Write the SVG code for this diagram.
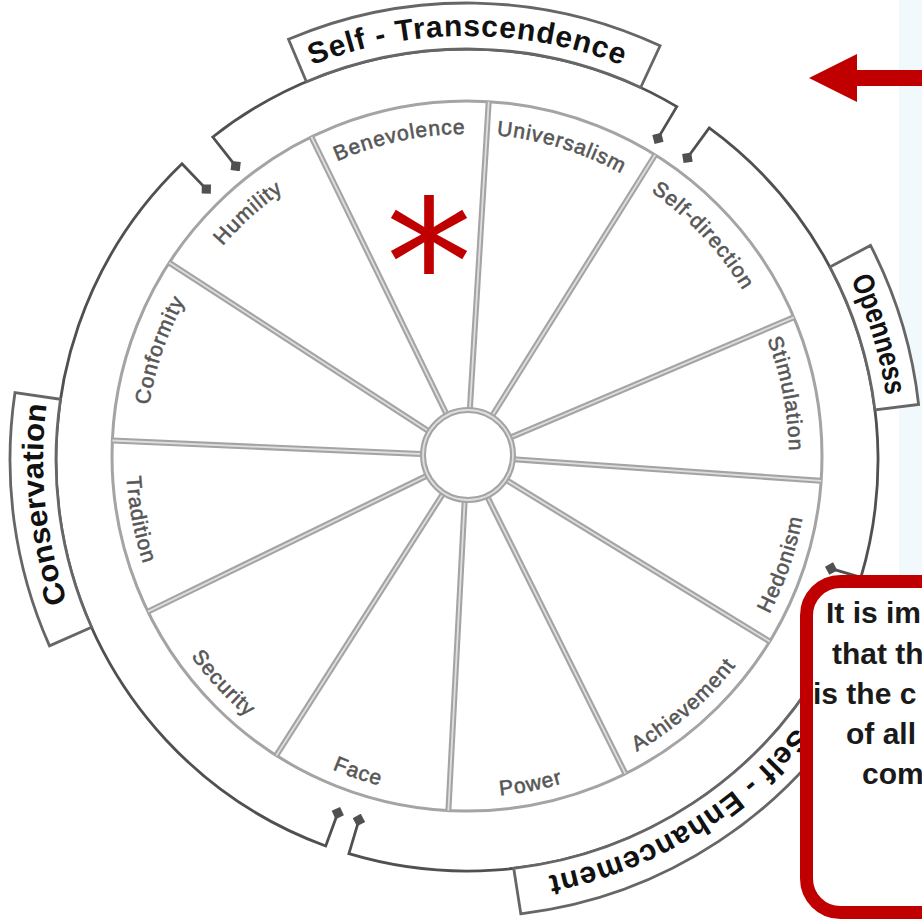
<svg xmlns="http://www.w3.org/2000/svg" xmlns:xlink="http://www.w3.org/1999/xlink" width="922" height="920" viewBox="0 0 922 920">
<defs>
<style>
.spO{stroke:#a4a4a4;stroke-width:6;fill:none;stroke-linecap:butt}
.spI{stroke:#dedede;stroke-width:1.8;fill:none}
.br{stroke:#505050;stroke-width:2.8;fill:none;marker-start:url(#dia);marker-end:url(#dia)}
.box{stroke:#666;stroke-width:2.8;fill:#fff}
.lbl{font-family:"Liberation Sans",Arial,sans-serif;font-size:21px;fill:#555;stroke:#5a5a5a;stroke-width:0.6;letter-spacing:1px}
.cat{font-family:"Liberation Sans",Arial,sans-serif;font-size:30px;font-weight:bold;fill:#111}
.note{font-family:"Liberation Sans",Arial,sans-serif;font-size:30px;font-weight:bold;fill:#1a1a1a}
</style>
<marker id="dia" viewBox="0 0 12 12" refX="6" refY="6" markerWidth="13" markerHeight="13" markerUnits="userSpaceOnUse" orient="auto">
<path d="M0,6 L6,0 L12,6 L6,12 Z" fill="#505050"/>
</marker>
<path id="pBen" d="M160.7,356.5 A322,322 0 0,1 706.3,240.5"/>
<path id="pUni" d="M247.4,220.5 A322,322 0 0,1 780.8,383.6"/>
<path id="pSd" d="M394.6,142.2 A322,322 0 0,1 774.9,550.1"/>
<path id="pSti" d="M571.8,151.5 A322,322 0 0,1 678.3,699.0"/>
<path id="pCon" d="M224.0,667.3 A322,322 0 0,1 405.6,139.9"/>
<path id="pHum" d="M152.0,522.9 A322,322 0 0,1 566.5,149.7"/>
<path id="pHed" d="M532.1,790.7 A341,341 0 0,0 724.4,232.3"/>
<path id="pAch" d="M356.0,778.4 A341,341 0 0,0 801.7,390.9"/>
<path id="pPow" d="M209.6,679.7 A341,341 0 0,0 789.4,567.0"/>
<path id="pFac" d="M132.3,521.1 A341,341 0 0,0 690.7,713.4"/>
<path id="pSec" d="M140.9,356.3 A341,341 0 0,0 543.7,788.3"/>
<path id="pTra" d="M243.3,198.6 A341,341 0 0,0 356.0,778.4"/>
<path id="cST" d="M99.8,248 A424,424 0 0,1 834.2,248"/>
<path id="cOp" d="M562.4,46.9 A424,424 0 0,1 777.1,749.2"/>
<path id="cCo" d="M294.6,847.3 A424,424 0 0,1 217.8,117.0"/>
<path id="cSE" d="M890.9,452.6 A424,424 0 0,1 261.4,830.8"/>
</defs>

<rect x="0" y="0" width="922" height="920" fill="#fff"/>
<rect x="899" y="0" width="23" height="580" fill="#f1f9fc"/>

<g id="connectors">
<path class="br" d="M235.7,166.1 L212.8,137.0 A411,411 0 0,1 676.8,106.6 L657.9,138.4"/>
<path class="br" d="M687.4,157.8 L709.2,127.9 A411,411 0 0,1 860.9,577.4 L831.2,568.6"/>
<path class="br" d="M819.3,602.3 L848.1,614.0 A411,411 0 0,1 348.9,853.7 L358.9,820.1"/>
<path class="br" d="M337.8,813.1 L325.7,846.0 A411,411 0 0,1 182.0,163.8 L206.3,189.1"/>
</g>

<g id="self-transcendence">
<path class="box" d="M306.4,81.7 L288.5,39.3 A457,457 0 0,1 660.1,45.8 L640.7,87.5 A411,411 0 0,0 306.4,81.7 Z"/>
<text class="cat" textLength="317" lengthAdjust="spacing"><textPath href="#cST" startOffset="50%" text-anchor="middle">Self - Transcendence</textPath></text>
</g>
<g id="openness">
<path class="box" d="M829.9,267.0 L870.5,245.4 A457,457 0 0,1 918.6,404.5 L874.9,409.9 A411,411 0 0,0 829.9,267.0 Z"/>
<text class="cat" font-size="28" textLength="122" lengthAdjust="spacingAndGlyphs"><textPath href="#cOp" startOffset="50%" text-anchor="middle">Openness</textPath></text>
</g>
<g id="conservation">
<path class="box" d="M91.6,627.2 L49.5,645.9 A457,457 0 0,1 15.0,392.5 L60.5,399.3 A411,411 0 0,0 91.6,627.2 Z"/>
<text class="cat" font-size="29" textLength="200" lengthAdjust="spacingAndGlyphs"><textPath href="#cCo" startOffset="50%" text-anchor="middle">Conservation</textPath></text>
</g>
<g id="self-enhancement">
<path class="box" d="M513.7,868.3 L520.8,913.8 A457,457 0 0,0 863,688 L823,665 A411,411 0 0,1 513.7,868.3 Z"/>
<text class="cat" textLength="295" lengthAdjust="spacing"><textPath href="#cSE" startOffset="50%" text-anchor="middle">Self - Enhancement</textPath></text>
</g>

<g id="wheel">
<circle cx="467" cy="456" r="355" fill="#fff" stroke="#a4a4a4" stroke-width="3"/>
<g class="spO">
<line x1="469.8" y1="410.1" x2="488.7" y2="101.7"/>
<line x1="491.4" y1="417.0" x2="655.1" y2="155.0"/>
<line x1="509.3" y1="438.0" x2="793.8" y2="317.3"/>
<line x1="512.9" y1="459.2" x2="821.1" y2="480.8"/>
<line x1="506.2" y1="480.0" x2="769.7" y2="641.5"/>
<line x1="487.5" y1="497.2" x2="625.4" y2="773.7"/>
<line x1="464.6" y1="501.9" x2="448.4" y2="810.5"/>
<line x1="442.3" y1="494.8" x2="276.3" y2="755.4"/>
<line x1="425.7" y1="476.2" x2="148.0" y2="611.6"/>
<line x1="421.0" y1="454.0" x2="112.4" y2="440.5"/>
<line x1="428.4" y1="431.0" x2="169.3" y2="262.7"/>
<line x1="446.8" y1="414.7" x2="311.4" y2="137.0"/>
</g>
<g class="spI">
<line x1="469.8" y1="410.1" x2="488.7" y2="101.7"/>
<line x1="491.4" y1="417.0" x2="655.1" y2="155.0"/>
<line x1="509.3" y1="438.0" x2="793.8" y2="317.3"/>
<line x1="512.9" y1="459.2" x2="821.1" y2="480.8"/>
<line x1="506.2" y1="480.0" x2="769.7" y2="641.5"/>
<line x1="487.5" y1="497.2" x2="625.4" y2="773.7"/>
<line x1="464.6" y1="501.9" x2="448.4" y2="810.5"/>
<line x1="442.3" y1="494.8" x2="276.3" y2="755.4"/>
<line x1="425.7" y1="476.2" x2="148.0" y2="611.6"/>
<line x1="421.0" y1="454.0" x2="112.4" y2="440.5"/>
<line x1="428.4" y1="431.0" x2="169.3" y2="262.7"/>
<line x1="446.8" y1="414.7" x2="311.4" y2="137.0"/>
</g>
<circle cx="468" cy="455" r="45" fill="#fff" stroke="#a4a4a4" stroke-width="6"/>
<circle cx="468" cy="455" r="45" fill="none" stroke="#dedede" stroke-width="1.8"/>
</g>

<g id="benevolence"><text class="lbl"><textPath href="#pBen" startOffset="50%" text-anchor="middle">Benevolence</textPath></text></g>
<g id="universalism"><text class="lbl"><textPath href="#pUni" startOffset="50%" text-anchor="middle">Universalism</textPath></text></g>
<g id="self-direction"><text class="lbl"><textPath href="#pSd" startOffset="50%" text-anchor="middle">Self-direction</textPath></text></g>
<g id="stimulation"><text class="lbl"><textPath href="#pSti" startOffset="50%" text-anchor="middle">Stimulation</textPath></text></g>
<g id="hedonism"><text class="lbl"><textPath href="#pHed" startOffset="50%" text-anchor="middle">Hedonism</textPath></text></g>
<g id="achievement"><text class="lbl"><textPath href="#pAch" startOffset="50%" text-anchor="middle">Achievement</textPath></text></g>
<g id="power"><text class="lbl"><textPath href="#pPow" startOffset="50%" text-anchor="middle">Power</textPath></text></g>
<g id="face"><text class="lbl"><textPath href="#pFac" startOffset="50%" text-anchor="middle">Face</textPath></text></g>
<g id="security"><text class="lbl"><textPath href="#pSec" startOffset="50%" text-anchor="middle">Security</textPath></text></g>
<g id="tradition"><text class="lbl"><textPath href="#pTra" startOffset="50%" text-anchor="middle">Tradition</textPath></text></g>
<g id="conformity"><text class="lbl"><textPath href="#pCon" startOffset="50%" text-anchor="middle">Conformity</textPath></text></g>
<g id="humility"><text class="lbl"><textPath href="#pHum" startOffset="50%" text-anchor="middle">Humility</textPath></text></g>

<g id="asterisk">
<text x="429" y="324" font-family="DejaVu Sans, sans-serif" font-size="173" fill="#c00000" text-anchor="middle">*</text>
</g>

<g id="arrow">
<polygon points="809,78 857,54 857,70 922,70 922,86 857,86 857,102" fill="#c00000"/>
</g>

<g id="note">
<rect x="806.5" y="581.5" width="200" height="331" rx="34" ry="34" fill="#fff" stroke="#c00000" stroke-width="13"/>
<text class="note" x="826" y="623">It is im</text>
<text class="note" x="832" y="664">that th</text>
<text class="note" x="813" y="704">is the c</text>
<text class="note" x="846" y="744">of all</text>
<text class="note" x="862" y="784">com</text>
</g>
</svg>
